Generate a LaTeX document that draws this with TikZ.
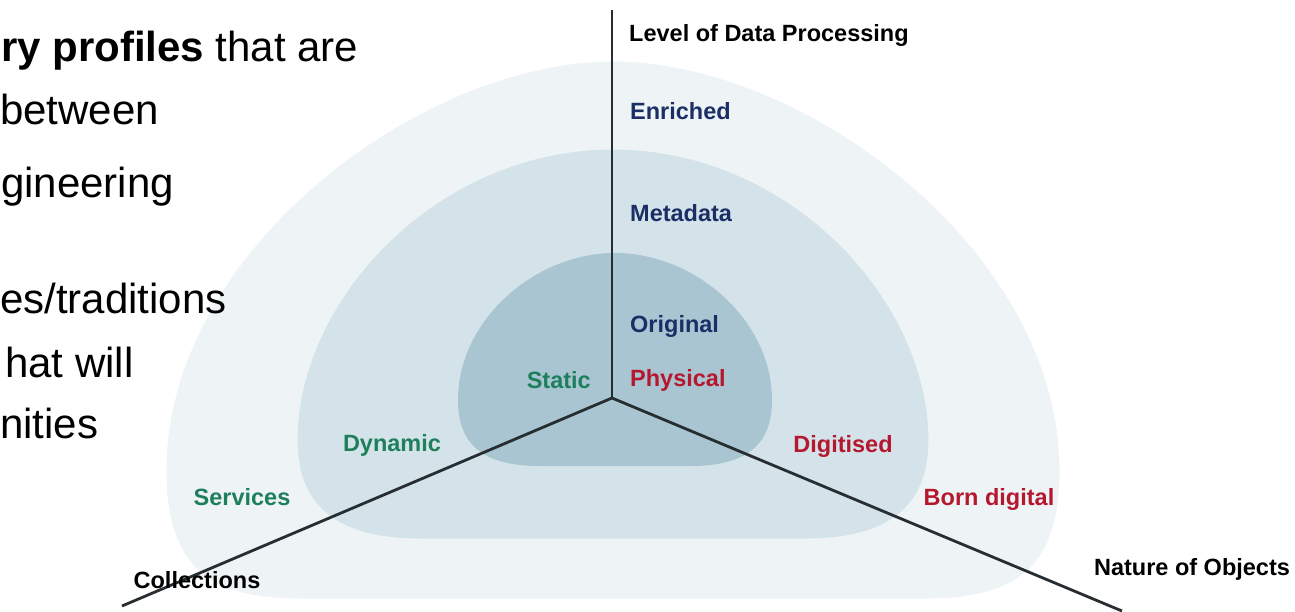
\documentclass[tikz,border=0pt]{standalone}
\usepackage{fontspec}
\setmainfont{Liberation Sans}

\definecolor{outerfill}{HTML}{EEF4F6}
\definecolor{midfill}{HTML}{D4E3E9}
\definecolor{innerfill}{HTML}{A9C5D1}
\definecolor{axisgray}{HTML}{262E32}
\definecolor{lvlblue}{HTML}{1C2E66}
\definecolor{objred}{HTML}{B5172F}
\definecolor{colgreen}{HTML}{1E7F5C}

\begin{document}
\begin{tikzpicture}[x=1pt, y=-1pt,
    slide/.style={anchor=base west, inner sep=0pt, font=\fontsize{42}{50}\selectfont},
    axisname/.style={inner sep=0pt, font=\fontsize{23.5}{28}\selectfont\bfseries},
    lvl/.style={axisname, anchor=west, text=lvlblue},
    obj/.style={axisname, text=objred},
    col/.style={axisname, text=colgreen},
    axisline/.style={axisgray, line width=2.8}]

\useasboundingbox (0,0) rectangle (1295,612);
\clip (0,0) rectangle (1295,612);

% Outer shell
\fill[outerfill, draw=white, line width=3]
    (613,60) .. controls (420,60) and (165,250) .. (165,470)
    .. controls (165,565) and (205,600) .. (300,600) -- (926,600)
    .. controls (1021,600) and (1061,565) .. (1061,470)
    .. controls (1061,250) and (806,60) .. (613,60);

% Middle shell
\fill[midfill, draw=white!60!midfill, line width=3]
    (613,148) .. controls (435,148) and (296,300) .. (296,440)
    .. controls (296,510) and (340,540) .. (420,540) -- (806,540)
    .. controls (886,540) and (930,510) .. (930,440)
    .. controls (930,300) and (791,148) .. (613,148);

% Inner shell
\fill[innerfill]
    (615,253) .. controls (535,253) and (458,320) .. (458,400)
    .. controls (458,450) and (490,466) .. (540,466) -- (690,466)
    .. controls (740,466) and (772,450) .. (772,400)
    .. controls (772,320) and (695,253) .. (615,253);

% Axes
\coordinate (origin) at (612,398);
\coordinate (lvlend) at (612,10);
\coordinate (colend) at (122,606);
\coordinate (objend) at (1122,611);
\draw[axisline] (origin) -- (lvlend);
\draw[axisline] (origin) -- (colend);
\draw[axisline] (origin) -- (objend);

% Level of data processing
\node[axisname, anchor=west] (lvlname) at (629,35) {Level of Data Processing};
\node[lvl] (enriched) at (630,111) {Enriched};
\node[lvl] (metadata) at (630,213) {Metadata};
\node[lvl] (original) at (630,326) {Original};

% Nature of objects
\node[obj, anchor=west] (physical) at (630,380) {Physical};
\node[obj] (digitised) at (843,446) {Digitised};
\node[obj] (borndig) at (989,499) {Born digital};
\node[axisname] (objname) at (1192,569) {Nature of Objects};

% Collections
\node[col, anchor=east] (static) at (591,380) {Static};
\node[col] (dynamic) at (392,445) {Dynamic};
\node[col] (services) at (242,497) {Services};
\node[axisname] (colname) at (197,580) {Collections};

% Slide text (cut at the left)
\node[slide] (t1) at (1,62) {\textbf{ry profiles} that are};
\node[slide] (t2) at (0,125) {between};
\node[slide] (t3) at (1,198) {gineering};
\node[slide] (t4) at (0,313) {es/traditions};
\node[slide] (t5) at (5,377) {hat will};
\node[slide] (t6) at (0,438) {nities};

\end{tikzpicture}
\end{document}
